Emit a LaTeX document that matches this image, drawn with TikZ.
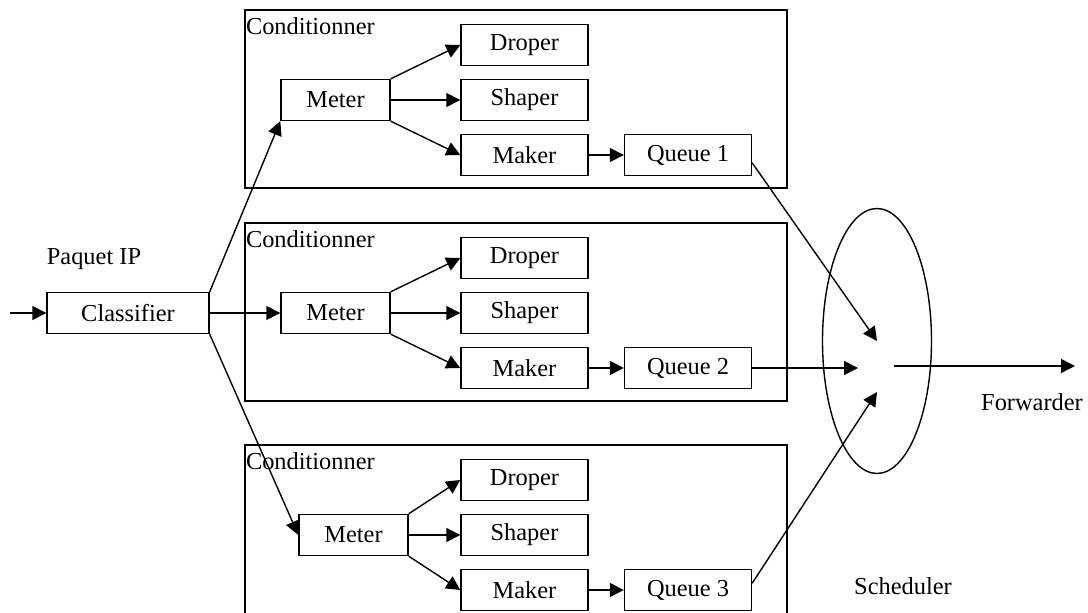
\documentclass[tikz,border=0pt]{standalone}
\usepackage{fontspec}
\setmainfont{Liberation Serif}
\usetikzlibrary{arrows.meta,positioning,shapes.geometric}

\begin{document}
\begin{tikzpicture}[x=0.5pt, y=-0.5pt, line width=0.7pt,
        every node/.style={font=\fontsize{12.2}{14}\selectfont},
        block/.style={draw, minimum width=63.5pt, minimum height=20.5pt, inner sep=0pt},
        meterbox/.style={block, minimum width=54.5pt},
        arr/.style={-{Triangle[length=7pt, width=7pt]}}]
        \useasboundingbox (0, 0) rectangle (1088, 613);
        \clip (0, 0) rectangle (1088, 613);
        % classifier
        \node[block, minimum width=81pt] (cls) at (128, 313) {Classifier};
        \node (paquet) at (94, 259) {Paquet IP};
        \coordinate (in) at (10, 313);
        \draw[arr] (in) -- (cls);
        % the three conditionners
        \foreach \i/\y/\mx in {1/45/335.5, 2/258/335.5, 3/480/353.5} {
                \node[draw, minimum width=271pt, minimum height=89pt, inner sep=0pt] (cond\i) at (516, \y+54) {};
                \node[anchor=north west, inner xsep=0.5pt, inner ysep=4pt] (lab\i) at (cond\i.north west) {Conditionner};
                \node[block] (dr\i) at (524.5, \y) {Droper};
                \node[block] (sh\i) at (524.5, \y+55) {Shaper};
                \node[block] (mk\i) at (524.5, \y+110) {Maker};
                \node[meterbox] (mt\i) at (\mx, \y+55) {Meter};
                \node[block] (q\i) at (688, \y+110) {Queue \i};
                \draw[arr] (mt\i.north east) -- (dr\i.west);
                \draw[arr] (mt\i) -- (sh\i);
                \draw[arr] (mt\i.south east) -- (mk\i.west);
                \draw[arr] (mk\i) -- (q\i);
        }
        \draw[arr] (cls.north east) -- (mt1.south west);
        \draw[arr] (cls) -- (mt2);
        \draw[arr] (cls.south east) -- (mt3.west);
        % scheduler
        \node[draw, ellipse, minimum width=54.5pt, minimum height=132.5pt, inner sep=0pt] (sched) at (877, 341) {};
        \node (schedlab) at (903, 586) {Scheduler};
        \node (fwdlab) at (1032, 402) {Forwarder};
        \coordinate (t1) at (877, 341);
        \coordinate (t2) at (858, 366);
        \coordinate (t3) at (877, 392);
        \coordinate (out) at (894, 366);
        \coordinate (fwd) at (1075, 366);
        \draw[arr] (q1.353) -- (t1);
        \draw[arr] (q2) -- (q2 -| t2);
        \draw[arr] (q3.6) -- (t3);
        \draw[arr] (out) -- (fwd);
\end{tikzpicture}
\end{document}
